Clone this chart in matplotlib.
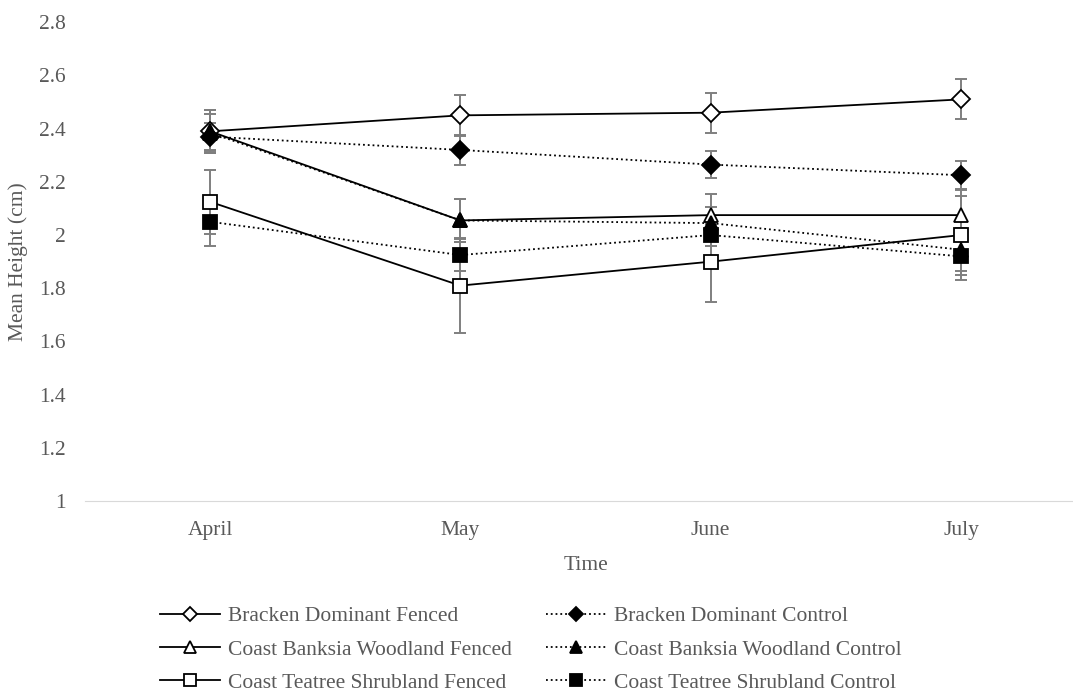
import matplotlib.pyplot as plt
from matplotlib.ticker import FuncFormatter

plt.rcParams['font.family'] = ['Liberation Serif', 'DejaVu Serif']

months = ['April', 'May', 'June', 'July']

bracken_fenced = [2.39, 2.45, 2.46, 2.51]
bracken_fenced_err = [0.08, 0.078, 0.075, 0.075]
bracken_control = [2.37, 2.32, 2.265, 2.225]
bracken_control_err = [0.05, 0.055, 0.05, 0.052]
banksia_fenced = [2.39, 2.055, 2.075, 2.075]
banksia_fenced_err = [0.08, 0.08, 0.08, 0.07]
banksia_control = [2.385, 2.055, 2.045, 1.945]
banksia_control_err = [0.07, 0.08, 0.06, 0.08]
teatree_fenced = [2.125, 1.81, 1.90, 2.0]
teatree_fenced_err = [0.12, 0.18, 0.15, 0.17]
teatree_control = [2.05, 1.925, 2.0, 1.92]
teatree_control_err = [0.09, 0.06, 0.04, 0.07]

series = [
    ('Bracken Dominant Fenced', bracken_fenced, bracken_fenced_err, 'D', 'white', '-'),
    ('Coast Banksia Woodland Fenced', banksia_fenced, banksia_fenced_err, '^', 'white', '-'),
    ('Coast Teatree Shrubland Fenced', teatree_fenced, teatree_fenced_err, 's', 'white', '-'),
    ('Bracken Dominant Control', bracken_control, bracken_control_err, 'D', 'black', ':'),
    ('Coast Banksia Woodland Control', banksia_control, banksia_control_err, '^', 'black', ':'),
    ('Coast Teatree Shrubland Control', teatree_control, teatree_control_err, 's', 'black', ':'),
]

text_col = '#595959'
fs = 15.5

fig = plt.figure(figsize=(10.73, 6.95), dpi=100)
ax = fig.add_axes([0.0792, 0.279, 0.933, 0.689])

x = range(len(months))
handles = []
for label, vals, errs, marker, face, ls in series:
    ax.errorbar(x, vals, yerr=errs, fmt='none', ecolor='#7f7f7f',
                elinewidth=1.4, capsize=4.5, capthick=1.4, zorder=2)
    msize = 9 if marker == 'D' else 10.5
    h, = ax.plot(x, vals, linestyle=ls, color='black', linewidth=1.3,
                 marker=marker, markersize=msize, markerfacecolor=face,
                 markeredgecolor='black', markeredgewidth=1.3, label=label,
                 zorder=3)
    handles.append(h)

ax.set_xlim(-0.5, 3.5)
ax.set_ylim(1, 2.8)
ax.set_yticks([1, 1.2, 1.4, 1.6, 1.8, 2, 2.2, 2.4, 2.6, 2.8])
ax.yaxis.set_major_formatter(FuncFormatter(lambda v, p: f'{v:g}'))
ax.set_xticks(list(x))
ax.set_xticklabels(months)
ax.tick_params(length=0, labelsize=fs, labelcolor=text_col)
ax.tick_params(axis='x', pad=14)
ax.tick_params(axis='y', pad=14)

for side in ['top', 'right', 'left']:
    ax.spines[side].set_visible(False)
ax.spines['bottom'].set_color('#d9d9d9')

ax.set_xlabel('Time', fontsize=fs, color=text_col, labelpad=12)
ax.set_ylabel('Mean Height (cm)', fontsize=fs, color=text_col, labelpad=8)

fig.legend(handles=handles, loc='upper left', bbox_to_anchor=(0.149, 0.128),
           ncol=2, frameon=False, fontsize=fs, labelcolor=text_col,
           borderpad=0, borderaxespad=0, handlelength=2.8, handletextpad=0.35,
           columnspacing=1.6, labelspacing=0.62, markerscale=0.8)

fig.savefig('out.png', dpi=100)
